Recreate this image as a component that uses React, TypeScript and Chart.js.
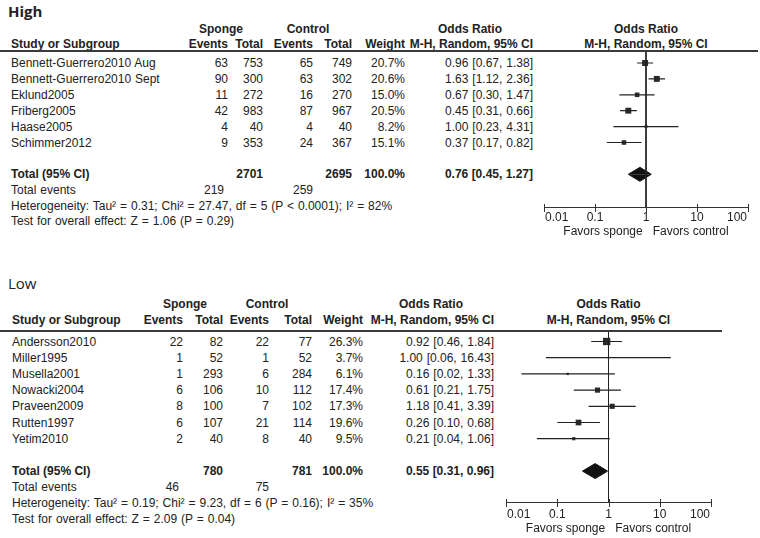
import React, { useEffect, useRef } from "react";
import { Chart, registerables } from "chart.js";

Chart.register(...registerables);

// ---------------- High ----------------
const highStudies = [
  "Bennett-Guerrero2010 Aug",
  "Bennett-Guerrero2010 Sept",
  "Eklund2005",
  "Friberg2005",
  "Haase2005",
  "Schimmer2012",
];
const highSpongeEvents = [63, 90, 11, 42, 4, 9];
const highSpongeTotal = [753, 300, 272, 983, 40, 353];
const highControlEvents = [65, 63, 16, 87, 4, 24];
const highControlTotal = [749, 302, 270, 967, 40, 367];
const highWeight = [20.7, 20.6, 15.0, 20.5, 8.2, 15.1];
const highOddsRatio = [0.96, 1.63, 0.67, 0.45, 1.0, 0.37];
const highCiLower = [0.67, 1.12, 0.3, 0.31, 0.23, 0.17];
const highCiUpper = [1.38, 2.36, 1.47, 0.66, 4.31, 0.82];
const highTotals = [2701, 2695];
const highTotalEvents = [219, 259];
const highPooled = [0.76, 0.45, 1.27];
const highHeterogeneity =
  "Heterogeneity: Tau\u00B2 = 0.31; Chi\u00B2 = 27.47, df = 5 (P < 0.0001); I\u00B2 = 82%";
const highOverall = "Test for overall effect: Z = 1.06 (P = 0.29)";

// ---------------- Low ----------------
const lowStudies = [
  "Andersson2010",
  "Miller1995",
  "Musella2001",
  "Nowacki2004",
  "Praveen2009",
  "Rutten1997",
  "Yetim2010",
];
const lowSpongeEvents = [22, 1, 1, 6, 8, 6, 2];
const lowSpongeTotal = [82, 52, 293, 106, 100, 107, 40];
const lowControlEvents = [22, 1, 6, 10, 7, 21, 8];
const lowControlTotal = [77, 52, 284, 112, 102, 114, 40];
const lowWeight = [26.3, 3.7, 6.1, 17.4, 17.3, 19.6, 9.5];
const lowOddsRatio = [0.92, 1.0, 0.16, 0.61, 1.18, 0.26, 0.21];
const lowCiLower = [0.46, 0.06, 0.02, 0.21, 0.41, 0.1, 0.04];
const lowCiUpper = [1.84, 16.43, 1.33, 1.75, 3.39, 0.68, 1.06];
const lowTotals = [780, 781];
const lowTotalEvents = [46, 75];
const lowPooled = [0.55, 0.31, 0.96];
const lowHeterogeneity =
  "Heterogeneity: Tau\u00B2 = 0.19; Chi\u00B2 = 9.23, df = 6 (P = 0.16); I\u00B2 = 35%";
const lowOverall = "Test for overall effect: Z = 2.09 (P = 0.04)";

// ---------------- Axis ----------------
const axisTicks = [0.01, 0.1, 1, 10, 100];
const axisTickLabels = ["0.01", "0.1", "1", "10", "100"];
const axisCaption = "Favors sponge   Favors control";

const FONT = "'Liberation Sans', Arial, Helvetica, sans-serif";
const INK = "#222";

type Layout = {
  titleY: number;
  h1Y: number;
  h2Y: number;
  lineY: number;
  lineRight: number;
  rowY0: number;
  rowStep: number;
  totalIdx: number;
  teY: number;
  hetY: number;
  testY: number;
  cols: {
    study: number;
    se: number;
    st: number;
    ce: number;
    ct: number;
    w: number;
    or: number;
    spongeC: number;
    controlC: number;
    orC: number;
  };
  plotL: number;
  plotR: number;
  plotTop: number;
  axisY: number;
  labelOff: number;
  captionOff: number;
  diamondHalf: number;
};

const highLayout: Layout = {
  titleY: 11,
  h1Y: 29,
  h2Y: 44,
  lineY: 51,
  lineRight: 758,
  rowY0: 63,
  rowStep: 15.9,
  totalIdx: 7,
  teY: 190,
  hetY: 206,
  testY: 221,
  cols: { study: 11, se: 228, st: 263, ce: 313, ct: 352, w: 405, or: 533, spongeC: 221, controlC: 308, orC: 470 },
  plotL: 544,
  plotR: 748,
  plotTop: 52,
  axisY: 207,
  labelOff: 11,
  captionOff: 25,
  diamondHalf: 7,
};

const lowLayout: Layout = {
  titleY: 283,
  h1Y: 304,
  h2Y: 320,
  lineY: 331,
  lineRight: 722,
  rowY0: 341.5,
  rowStep: 16.2,
  totalIdx: 8,
  teY: 487,
  hetY: 503,
  testY: 519,
  cols: { study: 12, se: 183, st: 223, ce: 269, ct: 312, w: 363, or: 494, spongeC: 185, controlC: 267, orC: 431 },
  plotL: 506,
  plotR: 711,
  plotTop: 332,
  axisY: 502,
  labelOff: 13,
  captionOff: 27,
  diamondHalf: 7.5,
};

function T(props: {
  x: number;
  y: number;
  align?: "left" | "right" | "center";
  bold?: boolean;
  size?: number;
  family?: string;
  children: React.ReactNode;
}) {
  const { x, y, align = "left", bold = false, size = 12, family = FONT, children } = props;
  const w = 400;
  let left = x;
  if (align === "right") left = x - w;
  else if (align === "center") left = x - w / 2;
  return (
    <div
      style={{
        position: "absolute",
        left,
        top: y - 8,
        width: align === "left" ? undefined : w,
        height: 16,
        lineHeight: "16px",
        textAlign: align,
        whiteSpace: "pre",
        fontFamily: family,
        fontSize: size,
        fontWeight: bold ? 700 : 400,
        wordSpacing: bold ? 0 : "0.6px",
        color: INK,
      }}
    >
      {children}
    </div>
  );
}

function ForestPlot(props: {
  L: Layout;
  or: number[];
  lo: number[];
  hi: number[];
  weight: number[];
  pooled: number[];
}) {
  const { L, or, lo, hi, weight, pooled } = props;
  const ref = useRef<HTMLCanvasElement | null>(null);
  const padL = 20;
  const padR = Math.min(20, 760 - L.plotR);
  const axisH = 38;
  const width = L.plotR - L.plotL + padL + padR;
  const height = L.axisY - L.plotTop + axisH;

  useEffect(() => {
    if (!ref.current) return;
    const yMin = (L.plotTop - L.rowY0) / L.rowStep;
    const yMax = (L.axisY - L.rowY0) / L.rowStep;
    const tIdx = L.totalIdx;
    const dh = L.diamondHalf / L.rowStep;
    const ci: { x: number; y: number | null }[] = [];
    or.forEach((_, i) => {
      ci.push({ x: lo[i], y: i }, { x: hi[i], y: i }, { x: hi[i], y: null });
    });

    const axisPlugin = {
      id: "forestAxis",
      afterDraw(chart: any) {
        const xs = chart.scales.x;
        const ctx = chart.ctx;
        const yb = Math.round(chart.chartArea.bottom) + 0.5;
        const x0 = xs.getPixelForValue(axisTicks[0]);
        const x1 = xs.getPixelForValue(axisTicks[axisTicks.length - 1]);
        ctx.save();
        ctx.strokeStyle = "#333";
        ctx.lineWidth = 1;
        ctx.beginPath();
        ctx.moveTo(Math.round(x0), yb);
        ctx.lineTo(Math.round(x1) + 1, yb);
        ctx.stroke();
        axisTicks.forEach((v) => {
          const px = Math.round(xs.getPixelForValue(v)) + 0.5;
          ctx.beginPath();
          ctx.moveTo(px, yb - 3.5);
          ctx.lineTo(px, yb + 4.5);
          ctx.stroke();
        });
        ctx.fillStyle = INK;
        ctx.font = "12px 'Liberation Sans', Arial, sans-serif";
        ctx.textBaseline = "middle";
        axisTicks.forEach((v, i) => {
          ctx.textAlign = i === 0 ? "left" : i === axisTicks.length - 1 ? "right" : "center";
          const px = xs.getPixelForValue(v) + (i === 0 ? 1 : i === axisTicks.length - 1 ? -1 : 0);
          ctx.fillText(axisTickLabels[i], px, chart.chartArea.bottom + L.labelOff);
        });
        ctx.textAlign = "center";
        ctx.fillText(axisCaption, (x0 + x1) / 2, chart.chartArea.bottom + L.captionOff);
        ctx.restore();
      },
    };

    const chart = new Chart(ref.current, {
      type: "line",
      data: {
        datasets: [
          {
            data: [
              { x: 1, y: yMin },
              { x: 1, y: yMax },
            ],
            borderColor: "#222",
            borderWidth: 1,
            pointRadius: 0,
          },
          {
            data: ci as any,
            borderColor: "#222",
            borderWidth: 1.2,
            pointRadius: 0,
            spanGaps: false,
          },
          {
            data: or.map((v, i) => ({ x: v, y: i })),
            showLine: false,
            pointStyle: "rect",
            pointRadius: (c: any) => (0.25 * weight[c.dataIndex] + 0.8) / Math.SQRT2,
            pointBackgroundColor: "#2b2b2b",
            pointBorderWidth: 0,
          },
          {
            data: [
              { x: pooled[1], y: tIdx },
              { x: pooled[0], y: tIdx - dh },
              { x: pooled[2], y: tIdx },
            ],
            borderColor: "#111",
            backgroundColor: "#111",
            borderWidth: 1,
            pointRadius: 0,
            fill: { value: tIdx },
          },
          {
            data: [
              { x: pooled[1], y: tIdx },
              { x: pooled[0], y: tIdx + dh },
              { x: pooled[2], y: tIdx },
            ],
            borderColor: "#111",
            backgroundColor: "#111",
            borderWidth: 1,
            pointRadius: 0,
            fill: { value: tIdx },
          },
        ] as any,
      },
      options: {
        responsive: true,
        maintainAspectRatio: false,
        animation: false,
        events: [],
        layout: { padding: { left: padL, right: padR, top: 0, bottom: axisH }, autoPadding: false } as any,
        plugins: {
          legend: { display: false },
          tooltip: { enabled: false },
          title: { display: false },
        },
        scales: {
          x: {
            type: "logarithmic",
            display: false,
            min: 0.01,
            max: 100,
          },
          y: {
            type: "linear",
            display: false,
            reverse: true,
            min: yMin,
            max: yMax,
          },
        },
      },
      plugins: [axisPlugin],
    });
    return () => chart.destroy();
  }, []);

  return (
    <div
      style={{
        position: "absolute",
        left: L.plotL - padL,
        top: L.plotTop,
        width,
        height,
      }}
    >
      <canvas ref={ref} />
    </div>
  );
}

function Section(props: {
  L: Layout;
  title: string;
  titleBold: boolean;
  studies: string[];
  se: number[];
  st: number[];
  ce: number[];
  ct: number[];
  weight: number[];
  or: number[];
  lo: number[];
  hi: number[];
  totals: number[];
  totalEvents: number[];
  pooled: number[];
  het: string;
  overall: string;
}) {
  const { L, title, titleBold, studies, se, st, ce, ct, weight, or, lo, hi, totals, totalEvents, pooled, het, overall } =
    props;
  const c = L.cols;
  const rowY = (i: number) => L.rowY0 + i * L.rowStep;
  const totY = rowY(L.totalIdx);
  const f2 = (v: number) => v.toFixed(2);
  const plotC = (L.plotL + L.plotR) / 2;
  return (
    <>
      <T x={8} y={L.titleY} bold={titleBold} size={15} family="'Open Sans', 'Noto Sans', sans-serif">
        {title}
      </T>
      <T x={c.spongeC} y={L.h1Y} align="center" bold>
        Sponge
      </T>
      <T x={c.controlC} y={L.h1Y} align="center" bold>
        Control
      </T>
      <T x={c.orC} y={L.h1Y} align="center" bold>
        Odds Ratio
      </T>
      <T x={plotC} y={L.h1Y} align="center" bold>
        Odds Ratio
      </T>
      <T x={c.study} y={L.h2Y} bold>
        Study or Subgroup
      </T>
      <T x={c.se} y={L.h2Y} align="right" bold>
        Events
      </T>
      <T x={c.st} y={L.h2Y} align="right" bold>
        Total
      </T>
      <T x={c.ce} y={L.h2Y} align="right" bold>
        Events
      </T>
      <T x={c.ct} y={L.h2Y} align="right" bold>
        Total
      </T>
      <T x={c.w} y={L.h2Y} align="right" bold>
        Weight
      </T>
      <T x={c.or} y={L.h2Y} align="right" bold>
        M-H, Random, 95% CI
      </T>
      <T x={plotC} y={L.h2Y} align="center" bold>
        M-H, Random, 95% CI
      </T>
      <div
        style={{
          position: "absolute",
          left: 0,
          top: L.lineY - 1,
          width: L.lineRight,
          height: 2,
          background: "#3a3a3a",
        }}
      />
      {studies.map((s, i) => (
        <React.Fragment key={s}>
          <T x={c.study} y={rowY(i)}>
            {s}
          </T>
          <T x={c.se} y={rowY(i)} align="right">
            {String(se[i])}
          </T>
          <T x={c.st} y={rowY(i)} align="right">
            {String(st[i])}
          </T>
          <T x={c.ce} y={rowY(i)} align="right">
            {String(ce[i])}
          </T>
          <T x={c.ct} y={rowY(i)} align="right">
            {String(ct[i])}
          </T>
          <T x={c.w} y={rowY(i)} align="right">
            {weight[i].toFixed(1) + "%"}
          </T>
          <T x={c.or} y={rowY(i)} align="right">
            {`${f2(or[i])} [${f2(lo[i])}, ${f2(hi[i])}]`}
          </T>
        </React.Fragment>
      ))}
      <T x={c.study} y={totY} bold>
        Total (95% CI)
      </T>
      <T x={c.st} y={totY} align="right" bold>
        {String(totals[0])}
      </T>
      <T x={c.ct} y={totY} align="right" bold>
        {String(totals[1])}
      </T>
      <T x={c.w} y={totY} align="right" bold>
        100.0%
      </T>
      <T x={c.or} y={totY} align="right" bold>
        {`${f2(pooled[0])} [${f2(pooled[1])}, ${f2(pooled[2])}]`}
      </T>
      <T x={c.study} y={L.teY}>
        Total events
      </T>
      <T x={c.se - 4} y={L.teY} align="right">
        {String(totalEvents[0])}
      </T>
      <T x={c.ce} y={L.teY} align="right">
        {String(totalEvents[1])}
      </T>
      <T x={c.study} y={L.hetY}>
        {het}
      </T>
      <T x={c.study} y={L.testY}>
        {overall}
      </T>
      <ForestPlot L={L} or={or} lo={lo} hi={hi} weight={weight} pooled={pooled} />
    </>
  );
}

export default function App() {
  return (
    <div
      style={{
        position: "absolute",
        left: 0,
        top: 0,
        width: 760,
        height: 538,
        overflow: "hidden",
        background: "#fff",
      }}
    >
      <Section
        L={highLayout}
        title="High"
        titleBold={true}
        studies={highStudies}
        se={highSpongeEvents}
        st={highSpongeTotal}
        ce={highControlEvents}
        ct={highControlTotal}
        weight={highWeight}
        or={highOddsRatio}
        lo={highCiLower}
        hi={highCiUpper}
        totals={highTotals}
        totalEvents={highTotalEvents}
        pooled={highPooled}
        het={highHeterogeneity}
        overall={highOverall}
      />
      <Section
        L={lowLayout}
        title="Low"
        titleBold={false}
        studies={lowStudies}
        se={lowSpongeEvents}
        st={lowSpongeTotal}
        ce={lowControlEvents}
        ct={lowControlTotal}
        weight={lowWeight}
        or={lowOddsRatio}
        lo={lowCiLower}
        hi={lowCiUpper}
        totals={lowTotals}
        totalEvents={lowTotalEvents}
        pooled={lowPooled}
        het={lowHeterogeneity}
        overall={lowOverall}
      />
    </div>
  );
}
